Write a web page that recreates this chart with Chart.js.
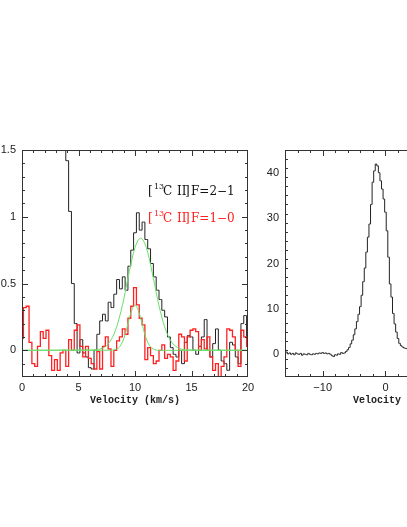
<!DOCTYPE html>
<html>
<head>
<meta charset="utf-8">
<script src="https://cdn.jsdelivr.net/npm/chart.js@4.4.1/dist/chart.umd.min.js"></script>
<style>
  body { margin: 0; width: 407px; height: 527px; overflow: hidden; background: #fff; position: relative; }
  canvas { position: absolute; top: 0; }
  #left { left: 0; }
  #right { left: 265px; }
</style>
</head>
<body>
<canvas id="left" width="265" height="527"></canvas>
<canvas id="right" width="265" height="527"></canvas>
<script>
// channel width of the spectra, km/s
const STEP = 0.25;
const grid = (v0, n) => Array.from({ length: n }, (_, i) => v0 + i * STEP);

// [13C II] F=1-0, channels from 0 km/s
const redVals = [
  0.09, 0.32, 0.33, 0.06, -0.10, -0.12, 0.03, 0.14, 0.09, 0.15,
  -0.04, -0.15, -0.07, -0.15, -0.02, 0.00, -0.12, 0.08, 0.00, 0.15,
  0.19, 0.03, -0.05, 0.03, -0.06, -0.10, -0.14, -0.01, -0.14, 0.03,
  0.10, 0.01, -0.12, 0.00, 0.07, 0.10, 0.16, 0.12, 0.24, 0.33,
  0.47, 0.34, 0.24, 0.19, -0.07, 0.02, -0.04, -0.10, -0.08, 0.00,
  0.04, -0.06, -0.03, -0.05, -0.15, -0.08, 0.12, 0.10, -0.08, 0.10,
  0.15, 0.16, 0.14, 0.00, 0.08, 0.01, 0.10, -0.05, -0.15, -0.10,
  -0.21, -0.12, -0.05, 0.16, 0.15, 0.10, 0.00, -0.12, 0.15, 0.10,
  0.03
];
// [13C II] F=2-1, channels from 3.75 km/s
const blackVals = [
  1.70, 1.42, 1.04, 0.50, 0.20, -0.02, 0.08, -0.02, -0.05, -0.13,
  -0.14, 0.00, 0.12, 0.22, 0.27, 0.22, 0.36, 0.32, 0.42, 0.53,
  0.46, 0.55, 0.45, 0.63, 0.75, 0.88, 1.03, 0.90, 0.96, 0.83,
  0.76, 0.65, 0.55, 0.45, 0.38, 0.30, 0.25, 0.10, 0.02, -0.03,
  -0.05, 0.00, -0.10, 0.06, 0.11, 0.10, 0.00, -0.03, 0.03, 0.10,
  0.23, 0.00, -0.05, 0.05, 0.16, 0.00, -0.08, -0.10, -0.15, 0.06,
  0.04, -0.05, -0.10, 0.20, 0.26, 0.10
];
// fits (green), nonzero parts; baseline 0 outside
const fit1Vals = [
  0.003, 0.006, 0.012, 0.021, 0.037, 0.061, 0.096, 0.145, 0.21, 0.29,
  0.38, 0.49, 0.59, 0.69, 0.77, 0.82, 0.84, 0.82, 0.77, 0.69,
  0.59, 0.49, 0.38, 0.29, 0.21, 0.145, 0.096, 0.061, 0.037, 0.021,
  0.012, 0.006, 0.003
];
const fit2Vals = [
  0.001, 0.005, 0.015, 0.039, 0.085, 0.156, 0.24, 0.31, 0.34, 0.31,
  0.24, 0.156, 0.085, 0.039, 0.015, 0.005, 0.0
];
// main line profile (right panel), channels from -16 km/s
const mainVals = [
  0.2, 0.5, 0.1, 0.3, 0.0, 0.2, -0.1, 0.3, 0.1, 0.0,
  0.2, -0.2, 0.1, 0.0, -0.1, 0.2, 0.0, -0.1, 0.1, 0.0,
  0.2, 0.1, 0.3, 0.2, 0.4, 0.2, 0.3, 0.1, 0.2, 0.0,
  -0.3, -0.5, -0.1, -0.2, 0.1, 0.0, 0.4, 0.2, 0.3, 0.6,
  1.0, 1.5, 2.3, 3.1, 4.3, 5.6, 7.2, 8.8, 10.5, 13.0,
  16.0, 19.0, 22.5, 25.8, 28.7, 33.0, 37.9, 40.4, 41.9, 41.5,
  40.0, 38.2, 36.4, 34.2, 31.3, 27.2, 21.4, 15.5, 12.6, 9.0,
  6.7, 4.9, 3.5, 2.4, 1.9, 1.6, 1.4, 1.3, 1.2, 1.0,
  0.9, 0.8, 0.7
];

const leftYTicks = [0, 0.5, 1, 1.5];
const rightYTicks = [0, 10, 20, 30, 40];

const pts = (xs, ys) => xs.map((x, i) => ({ x, y: ys[i] }));
const withBase = (v0, vals, lo, hi) =>
  [{ x: lo, y: 0 }, ...pts(grid(v0, vals.length), vals), { x: hi, y: 0 }];

const tickFont = { family: 'Liberation Sans', size: 11 };
const titleFont = { family: 'Liberation Mono', size: 10, weight: 'bold' };
const minus = v => (v < 0 ? '\u2212' + (-v) : '' + v);

// box with inward ticks on all four sides
const frame = {
  id: 'frame',
  afterDatasetsDraw(chart, args, o) {
    const { ctx, chartArea: a, scales: { x, y } } = chart;
    ctx.save();
    ctx.strokeStyle = '#333';
    ctx.lineWidth = 1;
    ctx.strokeRect(a.left + 0.5, a.top + 0.5, a.right - a.left - 1, a.bottom - a.top - 1);
    ctx.beginPath();
    const n = Math.round((x.max - x.min) / o.xMinor);
    for (let k = 1; k < n; k++) {
      const v = x.min + k * o.xMinor;
      const big = Math.abs(v / o.xMajor - Math.round(v / o.xMajor)) < 1e-6;
      const len = big ? 6 : 3;
      const p = Math.round(x.getPixelForValue(v)) + 0.5;
      ctx.moveTo(p, a.bottom); ctx.lineTo(p, a.bottom - len);
      ctx.moveTo(p, a.top); ctx.lineTo(p, a.top + len);
    }
    const m = Math.round((y.max - y.min) / o.yMinor);
    for (let k = 1; k < m; k++) {
      const v = y.min + k * o.yMinor;
      const big = Math.abs(v / o.yMajor - Math.round(v / o.yMajor)) < 1e-6;
      const len = big ? 6 : 3;
      const p = Math.round(y.getPixelForValue(v)) + 0.5;
      ctx.moveTo(a.left, p); ctx.lineTo(a.left + len, p);
      ctx.moveTo(a.right, p); ctx.lineTo(a.right - len, p);
    }
    ctx.stroke();
    ctx.restore();
  }
};

const label = {
  id: 'label',
  afterDraw(chart) {
    const ctx = chart.ctx;
    const row = (y, color, tail) => {
      ctx.fillStyle = color;
      ctx.textBaseline = 'alphabetic';
      ctx.font = '12px "DejaVu Serif"';
      ctx.fillText('[', 148, y);
      ctx.font = '8px "DejaVu Serif"';
      ctx.fillText('13', 154, y - 6);
      ctx.font = '12px "DejaVu Serif"';
      ctx.fillText('C', 163, y);
      ctx.fillText('II', 177, y);
      ctx.fillText(']', 185, y);
      ctx.fillText(tail, 191, y);
    };
    ctx.save();
    row(195, '#111', 'F=2\u22121');
    row(222, '#ff2020', 'F=1\u22120');
    ctx.restore();
  }
};

const axisX = (min, max, step, fit) => ({
  type: 'linear', min, max,
  grid: { display: false, drawTicks: false },
  border: { display: false },
  ticks: { stepSize: step, includeBounds: false, padding: 4, font: tickFont, color: '#222',
           maxRotation: 0, autoSkip: false, callback: minus },
  title: { display: true, text: 'Velocity (km/s)', font: titleFont, color: '#222',
           padding: { top: 2, bottom: 1 } },
  afterFit: s => { s.height = fit; }
});

const axisY = (min, max, list, fit) => ({
  type: 'linear', min, max,
  grid: { display: false, drawTicks: false },
  border: { display: false },
  afterBuildTicks: s => { s.ticks = list.map(value => ({ value })); },
  ticks: { padding: 6, font: tickFont, color: '#222', callback: v => '' + Math.round(v * 10) / 10 },
  afterFit: s => { s.width = fit; }
});

new Chart(document.getElementById('left'), {
  type: 'line',
  data: {
    datasets: [
      { data: withBase(6.5, fit1Vals, 0, 20), borderColor: '#66e066', borderWidth: 1, tension: 0.3 },
      { data: withBase(8.0, fit2Vals, 0, 20), borderColor: '#66e066', borderWidth: 1, tension: 0.3 },
      { data: pts(grid(0, redVals.length), redVals), borderColor: '#ff2020', borderWidth: 1.3, stepped: 'middle' },
      { data: pts(grid(3.75, blackVals.length), blackVals), borderColor: '#222', borderWidth: 1, stepped: 'middle' }
    ]
  },
  options: {
    responsive: false,
    animation: false,
    layout: { padding: { left: 0, right: 17, top: 150, bottom: 120 } },
    elements: { point: { radius: 0 } },
    plugins: { legend: { display: false }, tooltip: { enabled: false }, frame: { xMinor: 1, xMajor: 5, yMinor: 0.1, yMajor: 0.5 } },
    scales: {
      x: axisX(0, 20, 5, 30),
      y: axisY(-0.2, 1.5, leftYTicks, 22)
    }
  },
  plugins: [frame, label]
});

new Chart(document.getElementById('right'), {
  type: 'line',
  data: {
    datasets: [
      { data: pts(grid(-16, mainVals.length), mainVals), borderColor: '#222', borderWidth: 1, stepped: 'middle' }
    ]
  },
  options: {
    responsive: false,
    animation: false,
    layout: { padding: { left: 0, right: 19, top: 150, bottom: 120 } },
    elements: { point: { radius: 0 } },
    plugins: { legend: { display: false }, tooltip: { enabled: false }, frame: { xMinor: 2, xMajor: 10, yMinor: 2, yMajor: 10 } },
    scales: {
      x: axisX(-16, 20, 10, 30),
      y: axisY(-5, 45, rightYTicks, 20)
    }
  },
  plugins: [frame]
});
</script>
</body>
</html>
